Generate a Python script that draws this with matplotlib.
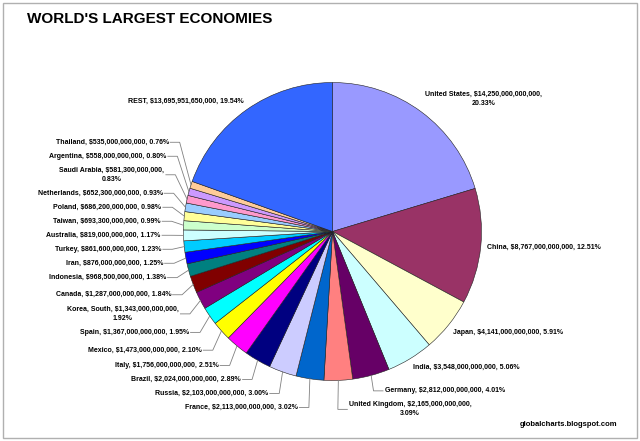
import numpy as np
import matplotlib.pyplot as plt
from matplotlib.patches import Rectangle

plt.rcParams['font.family'] = ['Liberation Sans', 'DejaVu Sans']

## Data (GDP in dollars, share of world total in %)
countries = ['United States', 'China', 'Japan', 'India', 'Germany', 'United Kingdom',
             'France', 'Russia', 'Brazil', 'Italy', 'Mexico', 'Spain', 'Korea, South',
             'Canada', 'Indonesia', 'Iran', 'Turkey', 'Australia', 'Taiwan', 'Poland',
             'Netherlands', 'Saudi Arabia', 'Argentina', 'Thailand', 'REST']
gdp = [14250000000000, 8767000000000, 4141000000000, 3548000000000, 2812000000000,
       2165000000000, 2113000000000, 2103000000000, 2024000000000, 1756000000000,
       1473000000000, 1367000000000, 1343000000000, 1287000000000, 968500000000,
       876000000000, 861600000000, 819000000000, 693300000000, 686200000000,
       652300000000, 581300000000, 558000000000, 535000000000, 13695951650000]
shares = [20.33, 12.51, 5.91, 5.06, 4.01, 3.09, 3.02, 3.00, 2.89, 2.51, 2.10, 1.95, 1.92,
          1.84, 1.38, 1.25, 1.23, 1.17, 0.99, 0.98, 0.93, 0.83, 0.80, 0.76, 19.54]
colors = ['#9999FF', '#993366', '#FFFFCC', '#CCFFFF', '#660066', '#FF8080', '#0066CC',
          '#CCCCFF', '#000080', '#FF00FF', '#FFFF00', '#00FFFF', '#800080', '#800000',
          '#008080', '#0000FF', '#00CCFF', '#CCFFFF', '#CCFFCC', '#FFFF99', '#99CCFF',
          '#FF99CC', '#CC99FF', '#FFCC99', '#3366FF']
wrapped = ['United States', 'United Kingdom', 'Korea, South', 'Saudi Arabia']

W, H = 640, 441
fig = plt.figure(figsize=(6.4, 4.41), dpi=100)
ax = fig.add_axes([0, 0, 1, 1])
cx, cy, R = 332.5, 209.5, 149

wedges, _ = ax.pie(gdp, colors=colors, startangle=90, counterclock=False,
                   center=(cx, cy), radius=R,
                   wedgeprops=dict(edgecolor='#202020', linewidth=0.4))
ax.set_xlim(0, W)
ax.set_ylim(0, H)
ax.set_aspect('equal')
ax.axis('off')

fs = 5
txt_kw = dict(fontsize=fs, fontweight='bold', color='black', multialignment='center',
              linespacing=1.45)

# label texts
labels = []
for name, v, p in zip(countries, gdp, shares):
    sep = ',\n' if name in wrapped else ', '
    labels.append(f'{name}, ${v:,.0f}{sep}{p:.2f}%')

mids = [np.deg2rad((w.theta1 + w.theta2) / 2) for w in wedges]

# big slices: label just outside the rim
leader = []
for i, a in enumerate(mids):
    c, s = np.cos(a), np.sin(a)
    if shares[i] >= 5:
        ha = 'left' if c > 0.25 else ('right' if c < -0.25 else 'center')
        va = 'bottom' if s > 0.5 else ('top' if s < -0.5 else 'center')
        ax.text(cx + 155 * c, cy + 155 * s, labels[i], ha=ha, va=va, **txt_kw)
    else:
        leader.append(i)

# small slices: stacked labels with leader lines
for side in (-1, 1):
    idx = [i for i in leader if np.sign(np.cos(mids[i])) == side]
    idx.sort(key=lambda i: np.sin(mids[i]))
    prev_y, prev_n = None, 1
    for i in idx:
        c, s = np.cos(mids[i]), np.sin(mids[i])
        n = labels[i].count('\n') + 1
        y = 178 * s
        if prev_y is not None:
            y = max(y, prev_y + 14 + 4.5 * ((prev_n - 1) + (n - 1)))
        prev_y, prev_n = y, n
        xl = 162 * c + 10 * side
        elbow = xl - 11 * side
        ax.plot([cx + R * c, cx + elbow, cx + xl - 1.5 * side],
                [cy + R * s, cy + y, cy + y], color='#808080', lw=0.6)
        ax.text(cx + xl, cy + y, labels[i], ha='right' if side < 0 else 'left',
                va='center', **txt_kw)

# title, footer and frame
ax.text(27, H - 12, "WORLD'S LARGEST ECONOMIES", fontsize=11, fontweight='bold',
        ha='left', va='top')
ax.text(617, H - 424, 'globalcharts.blogspot.com', fontsize=5.5, fontweight='bold',
        ha='right', va='center')
ax.add_patch(Rectangle((3, 3), W - 6, H - 6, fill=False, edgecolor='#b0b0b0', lw=1))

fig.savefig('out.png', dpi=100)
